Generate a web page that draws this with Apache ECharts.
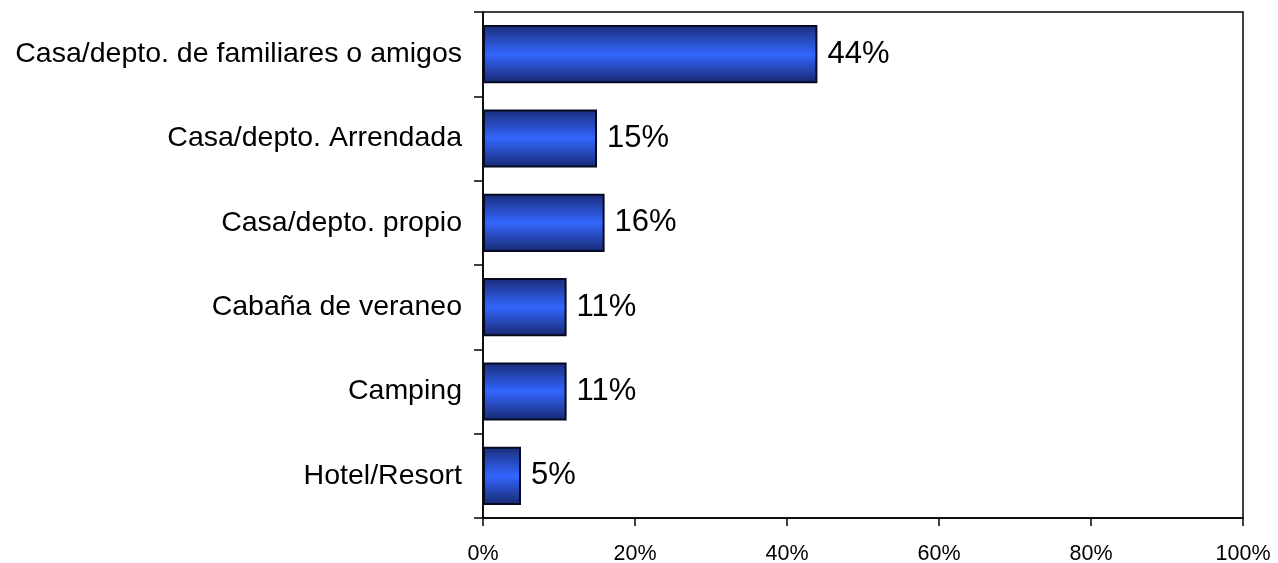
<!DOCTYPE html>
<html>
<head>
<meta charset="utf-8">
<script src="https://cdn.jsdelivr.net/npm/echarts@6/dist/echarts.min.js"></script>
<style>html,body{margin:0;padding:0;background:#fff}#c{width:1278px;height:563px}</style>
</head>
<body>
<div id="c"></div>
<script>
const categories = ["Casa/depto. de familiares o amigos", "Casa/depto. Arrendada", "Casa/depto. propio", "Cabaña de veraneo", "Camping", "Hotel/Resort"];
const values = [44, 15, 16, 11, 11, 5];
const xTicks = [0, 20, 40, 60, 80, 100];

const chart = echarts.init(document.getElementById('c'), null, {renderer: 'canvas'});
const font = "'Liberation Sans', Arial, sans-serif";
chart.setOption({
  animation: false,
  grid: {left: 483, right: 35, top: 12, bottom: 45, containLabel: false, outerBoundsMode: 'none', show: true, borderColor: '#000', borderWidth: 1.5, backgroundColor: 'transparent'},
  xAxis: {
    type: 'value', min: 0, max: 100, interval: 20,
    axisLine: {show: true, lineStyle: {color: '#000', width: 1.5}},
    axisTick: {show: true, length: 8, lineStyle: {color: '#000', width: 1.5}},
    splitLine: {show: false},
    axisLabel: {fontFamily: font, fontSize: 21.5, color: '#000', margin: 25, formatter: v => xTicks.includes(v) ? v + '%' : ''}
  },
  yAxis: {
    type: 'category', data: categories, inverse: true,
    axisLine: {show: true, lineStyle: {color: '#000', width: 1.5}},
    axisTick: {show: true, length: 9, lineStyle: {color: '#000', width: 1.5}},
    axisLabel: {fontFamily: font, fontSize: 28.5, color: '#000', margin: 21}
  },
  series: [{
    type: 'bar', data: values, barCategoryGap: '31%',
    itemStyle: {
      borderColor: '#050a20', borderWidth: 2,
      color: new echarts.graphic.LinearGradient(0, 0, 0, 1, [
        {offset: 0, color: '#1a2c78'},
        {offset: 0.5, color: '#3366ff'},
        {offset: 1, color: '#18286e'}
      ])
    },
    label: {show: true, position: 'right', distance: 10, fontFamily: font, fontSize: 31, color: '#000', formatter: p => p.value + '%'}
  }]
});
</script>
</body>
</html>
